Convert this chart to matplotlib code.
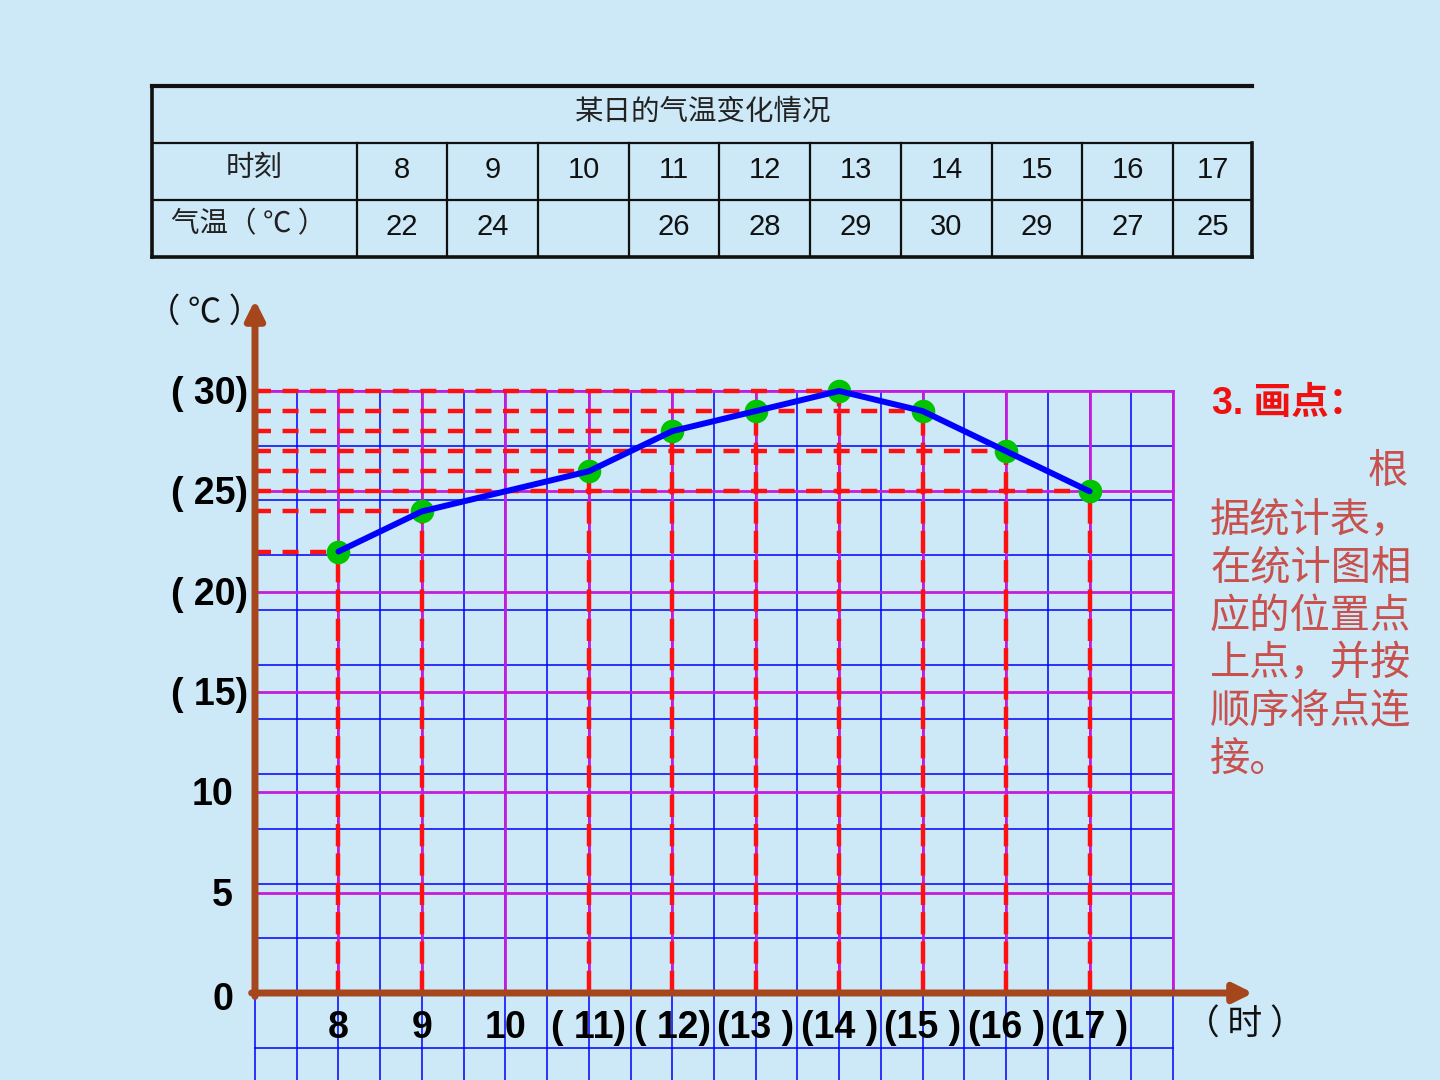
import matplotlib
matplotlib.use("Agg")
import matplotlib.pyplot as plt
import numpy as np

# ---------------- data ----------------
hours = [8, 9, 10, 11, 12, 13, 14, 15, 16, 17]
temps = [22, 24, None, 26, 28, 29, 30, 29, 27, 25]
table_title = "某日的气温变化情况"
row1_label = "时刻"
row2_label = "气温（ ℃ ）"
ytick_vals = [30, 25, 20, 15, 10, 5, 0]
ytick_text = ["( 30)", "( 25)", "( 20)", "( 15)", "10", "5", "0"]
xtick_text = ["8", "9", "10", "( 11)", "( 12)", "(13 )", "(14 )", "(15 )", "(16 )", "(17 )"]
side_title = "3. 画点："
side_lines = ["根", "据统计表，", "在统计图相", "应的位置点", "上点，并按", "顺序将点连", "接。"]

# ---------------- style ----------------
BG = "#CDE8F6"
BROWN = "#A5461C"
BLUE = "#0000FF"
MAG = "#C41EDC"
RED = "#FF1010"
GREEN = "#00C400"
SIDE = "#C8504D"
CJK = ["Noto Sans CJK SC", "DejaVu Sans"]
LAT = ["Liberation Sans", "Noto Sans CJK SC", "DejaVu Sans"]

W, H = 1440, 1080
fig = plt.figure(figsize=(W / 100, H / 100), dpi=100, facecolor=BG)

# overlay in pixel coordinates for layout (table, side text)
ov = fig.add_axes([0, 0, 1, 1], zorder=0)
ov.set_xlim(0, W)
ov.set_ylim(H, 0)
ov.axis("off")
ov.patch.set_alpha(0)

# ---------------- table ----------------
col_w = [205, 90, 91, 91, 90, 91, 91, 91, 90, 91, 79]
x0 = 152
edges = [x0]
for w in col_w:
    edges.append(edges[-1] + w)
rows = [86, 143, 200, 257]
tc = "#111111"
ov.plot([edges[0], edges[-1]], [rows[0], rows[0]], color=tc, lw=3.0)
ov.plot([edges[0], edges[-1]], [rows[1], rows[1]], color=tc, lw=1.6)
ov.plot([edges[0], edges[-1]], [rows[2], rows[2]], color=tc, lw=1.6)
ov.plot([edges[0], edges[-1]], [rows[3], rows[3]], color=tc, lw=2.6)
ov.plot([edges[0], edges[0]], [rows[0], rows[3]], color=tc, lw=2.6)
ov.plot([edges[-1], edges[-1]], [rows[1], rows[3]], color=tc, lw=2.6)
for e in edges[1:-1]:
    ov.plot([e, e], [rows[1], rows[3]], color=tc, lw=1.6)

ov.text(703, 112, table_title, family=CJK, fontsize=20.5, color="#222222",
        ha="center", va="center", fontweight="light")
ov.text((edges[0] + edges[1]) / 2, 168, row1_label, family=CJK, fontsize=20.5,
        color="#222222", ha="center", va="center", fontweight="light")
ov.text((edges[0] + edges[1]) / 2 - 6, 224, row2_label, family=CJK, fontsize=20.5,
        color="#222222", ha="center", va="center", fontweight="light")
for i, (h, t) in enumerate(zip(hours, temps)):
    cx = (edges[i + 1] + edges[i + 2]) / 2
    ov.text(cx, 170, str(h), family=LAT, fontsize=21, color="#111111",
            ha="center", va="center")
    if t is not None:
        ov.text(cx, 227, str(t), family=LAT, fontsize=21, color="#111111",
                ha="center", va="center")

# ---------------- side text ----------------
ov.text(1212, 404, side_title, family=LAT, fontsize=27, color="#F01010",
        fontweight="bold", ha="left", va="center")
line_y = [471, 520, 568, 616, 663, 711, 759]
for k, (s, yy) in enumerate(zip(side_lines, line_y)):
    if k == 0:
        ov.text(1408, yy, s, family=CJK, fontsize=29, color=SIDE,
                ha="right", va="center")
    else:
        ov.text(1210, yy, s, family=CJK, fontsize=29, color=SIDE,
                ha="left", va="center")

# ---------------- chart axes ----------------
left, right, top, bottom = 255, 1173, 391, 993
ax = fig.add_axes([left / W, 1 - bottom / H, (right - left) / W, (bottom - top) / H], zorder=2)
ax.set_xlim(7, 18)
ax.set_ylim(0, 30)
ax.axis("off")
ax.patch.set_alpha(0)

ypx = (bottom - top) / 30.0
xpx = (right - left) / 11.0
ybot = -(H - bottom) / ypx - 0.2

# blue grid
for xv in np.arange(7, 18.01, 0.5):
    ax.plot([xv, xv], [ybot, 30], color=BLUE, lw=1.1, clip_on=False, zorder=1)
bstep = 30 / 11
for k in range(-1, 12):
    yv = k * bstep
    ax.plot([7, 18], [yv, yv], color=BLUE, lw=1.1, clip_on=False, zorder=1)
# magenta grid
for xv in range(8, 19):
    ax.plot([xv, xv], [0, 30], color=MAG, lw=2.0, clip_on=False, zorder=2)
for yv in range(5, 31, 5):
    ax.plot([7, 18], [yv, yv], color=MAG, lw=2.0, clip_on=False, zorder=2)

# red dashed guides
pts = [(h, t) for h, t in zip(hours, temps) if t is not None]
for h, t in pts:
    ax.plot([h, h], [0, t], color=RED, lw=3.2, dashes=(5, 1.6), clip_on=False, zorder=3)
for t in sorted(set(t for _, t in pts)):
    hmax = max(h for h, tt in pts if tt == t)
    ax.plot([7, hmax], [t, t], color=RED, lw=3.2, dashes=(3.6, 2.6), clip_on=False, zorder=3)

# markers and line
px = [h for h, _ in pts]
py = [t for _, t in pts]
ax.plot(px, py, linestyle="none", marker="o", markersize=17, color=GREEN,
        markeredgewidth=0, clip_on=False, zorder=4)
ax.plot(px, py, color=BLUE, lw=4.3, clip_on=False, zorder=5, solid_capstyle="round")

# axes arrows
ax.annotate("", xy=(7, (bottom - 300) / ypx), xytext=(7, -0.17),
            arrowprops=dict(arrowstyle="-|>", lw=5, color=BROWN, mutation_scale=28,
                            shrinkA=0, shrinkB=0), annotation_clip=False, zorder=6)
ax.annotate("", xy=(7 + (1253 - left) / xpx, 0), xytext=(6.96, 0),
            arrowprops=dict(arrowstyle="-|>", lw=5, color=BROWN, mutation_scale=28,
                            shrinkA=0, shrinkB=0), annotation_clip=False, zorder=6)

# tick labels
for v, s in zip(ytick_vals, ytick_text):
    off = 7 / xpx if s.endswith(")") else 22 / xpx
    dy = (7 if v == 0 else 3) / ypx
    ax.text(7 - off, v - dy, s, family=LAT, fontsize=27, fontweight="bold",
            ha="right", va="center", color="#000000", clip_on=False, zorder=7)
for h, s in zip(hours, xtick_text):
    ax.text(h, -(1028 - bottom) / ypx, s, family=LAT, fontsize=27, fontweight="bold",
            ha="center", va="center", color="#000000", clip_on=False, zorder=7)

# axis unit labels
ax.text(7 + (205 - left) / xpx, (bottom - 312) / ypx, "（ ℃ ）", family=CJK, fontsize=24,
        ha="center", va="center", color="#111111", clip_on=False, zorder=7)
ax.text(7 + (1245 - left) / xpx, -(1025 - bottom) / ypx, "（ 时 ）", family=CJK, fontsize=25,
        ha="center", va="center", color="#111111", clip_on=False, zorder=7)

fig.savefig("out.png", dpi=100, facecolor=BG)
